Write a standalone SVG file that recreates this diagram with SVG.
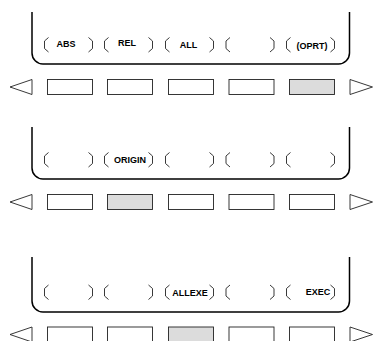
<svg xmlns="http://www.w3.org/2000/svg" width="374" height="341" viewBox="0 0 374 341">
<defs>
<style>
.frame{fill:none;stroke:#000;stroke-width:1.5}
.key{fill:#fff;stroke:#222;stroke-width:0.9}
.key.on{fill:#dcdcdc}
.br{fill:none;stroke:#222;stroke-width:0.9}
.arr{fill:#fff;stroke:#222;stroke-width:0.9}
.lbl{font-family:"Liberation Sans",Arial,sans-serif;font-weight:bold;font-size:9px;fill:#000;text-anchor:middle}
</style>
<g id="kbrk">
<polyline class="br" points="4,0 0,3.5 0,11 4,14.5"/>
<polyline class="br" points="44,0 48,3.5 48,11 44,14.5"/>
</g>
<g id="keys">
<polygon class="arr" points="32,0 32,15 10,7.5"/>
<polygon class="arr" points="350,0 350,15 372.5,7.5"/>
</g>
</defs>
<rect width="374" height="341" fill="#fff"/>

<g id="panel1">
<path class="frame" d="M32,12 V53 A11,11 0 0 0 43,64 H338.5 A11,11 0 0 0 349.5,53 V12"/>
<use href="#kbrk" x="44.5" y="37.5"/>
<use href="#kbrk" x="104.5" y="37.5"/>
<use href="#kbrk" x="165.5" y="37.5"/>
<use href="#kbrk" x="226" y="37.5"/>
<use href="#kbrk" x="286.5" y="37.5"/>
<text class="lbl" x="66" y="46.5">ABS</text>
<text class="lbl" x="127" y="46">REL</text>
<text class="lbl" x="188.5" y="48">ALL</text>
<text class="lbl" x="312" y="48.5">(OPRT)</text>
</g>
<g id="softkeys1">
<use href="#keys" y="79.5"/>
<rect class="key" x="47.5" y="79.5" width="45" height="15"/>
<rect class="key" x="107.5" y="79.5" width="45" height="15"/>
<rect class="key" x="168.5" y="79.5" width="45" height="15"/>
<rect class="key" x="229" y="79.5" width="45" height="15"/>
<rect class="key on" x="289.5" y="79.5" width="45" height="15"/>
</g>

<g id="panel2">
<path class="frame" d="M32,127 V168 A11,11 0 0 0 43,179 H338.5 A11,11 0 0 0 349.5,168 V127"/>
<use href="#kbrk" x="44.5" y="152.5"/>
<use href="#kbrk" x="104.5" y="152.5"/>
<use href="#kbrk" x="165.5" y="152.5"/>
<use href="#kbrk" x="226" y="152.5"/>
<use href="#kbrk" x="286.5" y="152.5"/>
<text class="lbl" x="130" y="163">ORIGIN</text>
</g>
<g id="softkeys2">
<use href="#keys" y="194.5"/>
<rect class="key" x="47.5" y="194.5" width="45" height="15"/>
<rect class="key on" x="107.5" y="194.5" width="45" height="15"/>
<rect class="key" x="168.5" y="194.5" width="45" height="15"/>
<rect class="key" x="229" y="194.5" width="45" height="15"/>
<rect class="key" x="289.5" y="194.5" width="45" height="15"/>
</g>

<g id="panel3">
<path class="frame" d="M32,257 V301 A11,11 0 0 0 43,312 H338.5 A11,11 0 0 0 349.5,301 V257"/>
<use href="#kbrk" x="44.5" y="285"/>
<use href="#kbrk" x="104.5" y="285"/>
<use href="#kbrk" x="165.5" y="285"/>
<use href="#kbrk" x="226" y="285"/>
<use href="#kbrk" x="286.5" y="285"/>
<text class="lbl" x="190" y="296">ALLEXE</text>
<text class="lbl" x="318" y="295">EXEC</text>
</g>
<g id="softkeys3">
<use href="#keys" y="327"/>
<rect class="key" x="47.5" y="327" width="45" height="15"/>
<rect class="key" x="107.5" y="327" width="45" height="15"/>
<rect class="key on" x="168.5" y="327" width="45" height="15"/>
<rect class="key" x="229" y="327" width="45" height="15"/>
<rect class="key" x="289.5" y="327" width="45" height="15"/>
</g>
</svg>
